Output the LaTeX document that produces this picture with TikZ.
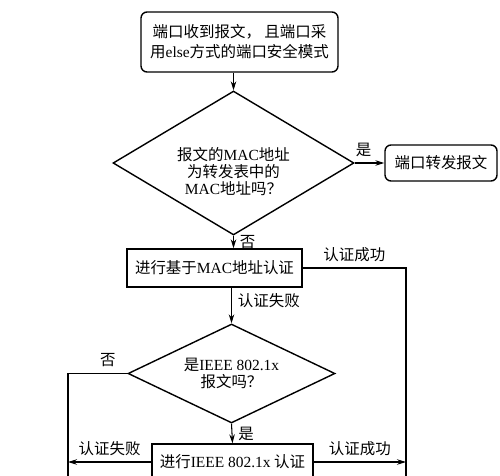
\documentclass[tikz,border=0pt]{standalone}
\usepackage{fontspec}
\newfontfamily\cjk{Noto Sans CJK SC}
\newfontfamily\enfont{Liberation Serif}
\newcommand\en[1]{{\enfont #1}}
\usetikzlibrary{shapes.geometric,arrows.meta}
\tikzset{
  startbox/.style={draw,line width=0.8pt,rounded corners=0.12cm,align=center,inner sep=0,font={\cjk\fontsize{8.8}{11.4}\selectfont}},
  procbox/.style={draw,line width=0.8pt,align=center,inner sep=0},
  decision/.style={draw,diamond,line width=0.8pt,align=center,inner sep=0,font={\cjk\fontsize{8.8}{9.7}\selectfont}},
  flow/.style={line width=0.6pt,-{Stealth[length=1.8mm,width=1.1mm]}},
  link/.style={line width=0.6pt}
}

\begin{document}
\begin{tikzpicture}[x=0.02cm,y=-0.02cm,font={\cjk\fontsize{8.8}{10}\selectfont}]
\useasboundingbox (0,0) rectangle (500,476);
\clip (0,0) rectangle (500,476);

% nodes
\node[startbox,minimum width=3.94cm,minimum height=1.2cm] (start) at (239.5,42) {端口收到报文， 且端口采\\用\en{else}方式的端口安全模式};
% the strut pushes the text a little below the middle, as in the print
\node[decision,minimum width=4.82cm,minimum height=2.88cm,aspect=1.67] (macq) at (233.5,163) {\rule{0pt}{17pt}报文的\en{MAC}地址\\为转发表中的\\\en{MAC}地址吗？};
\node[startbox,minimum width=2.24cm,minimum height=0.72cm] (fwd) at (441,163) {端口转发报文};
\node[procbox,minimum width=3.5cm,minimum height=0.76cm] (macauth) at (214.5,268) {进行基于\en{MAC}地址认证};
\node[decision,minimum width=4.14cm,minimum height=1.98cm,aspect=2.09] (dotq) at (231.5,373.5) {是\en{IEEE 802.1x}\\报文吗？};
\node[procbox,minimum width=3.22cm,minimum height=0.72cm] (dotauth) at (232.5,462) {进行\en{IEEE 802.1x} 认证};
\coordinate (lb) at (68,500);
\coordinate (rb) at (406,500);

% connectors
\draw[flow] (start.south -| macq.north) -- (macq.north);
\draw[flow] (macq.east) -- node[above,pos=0.3] {是} (fwd.west);
\draw[flow] (macq.south) -- node[right] {否} (macq.south |- macauth.north);
\draw[link] (macauth.east) -- node[above] {认证成功} (macauth.east -| rb) -- (rb);
\draw[flow] (macauth.south -| dotq.north) -- node[right,pos=0.35] {认证失败} (dotq.north);
\draw[link] (dotq.west) -- node[above,pos=0.33] {否} (dotq.west -| lb) -- (lb);
\draw[flow] (dotq.south) -- node[right] {是} (dotauth.north);
\draw[flow] (dotauth.west) -- node[above] {认证失败} (dotauth.west -| lb);
\draw[flow] (dotauth.east) -- node[above] {认证成功} (dotauth.east -| rb);
\end{tikzpicture}
\end{document}
